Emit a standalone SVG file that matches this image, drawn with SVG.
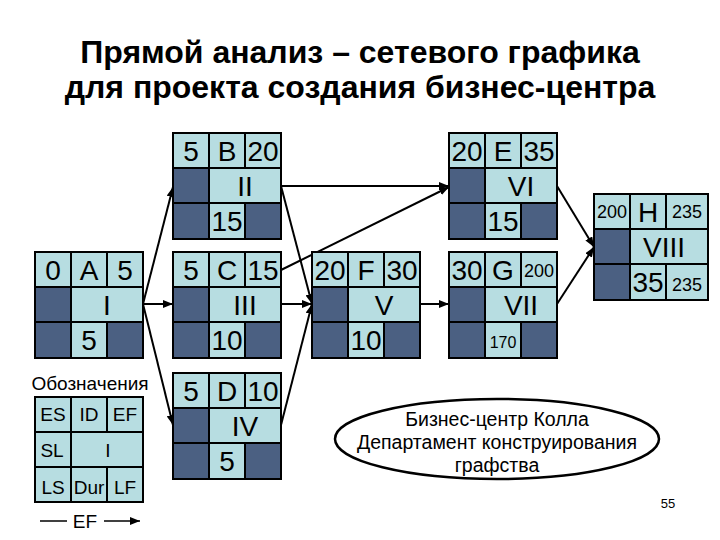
<svg xmlns="http://www.w3.org/2000/svg" width="720" height="540" viewBox="0 0 720 540">
<defs>
<style>
.l{fill:#b7dde1;stroke:#000;stroke-width:2}
.d{fill:#4b6082;stroke:#000;stroke-width:2}
text{font-family:"Liberation Sans",Arial,sans-serif;fill:#000;text-anchor:middle}
.t{font-size:28px}
.s{font-size:18px}
.g{font-size:16px}
.lg{font-size:19px}
.e{font-size:19.5px}
.title{font-size:32px;font-weight:bold}
.c{stroke:#000;stroke-width:2;fill:none;marker-end:url(#ah)}
</style>
<marker id="ah" markerUnits="userSpaceOnUse" markerWidth="10" markerHeight="8" refX="10" refY="4" orient="auto">
<path d="M0,0 L10,4 L0,8 z" fill="#000"/>
</marker>
</defs>
<rect width="720" height="540" fill="#fff"/>
<g id="title">
<text class="title" x="360" y="63">Прямой анализ – сетевого графика</text>
<text class="title" x="360" y="98">для проекта создания бизнес-центра</text>
</g>
<g id="connectors">
<path class="c" d="M143,304 L173,187"/>
<path class="c" d="M143,304 L173,304"/>
<path class="c" d="M143,304 L173,425"/>
<path class="c" d="M281,186 L449,186"/>
<path class="c" d="M281,186 L312,304"/>
<path class="c" d="M281,270 L449,187"/>
<path class="c" d="M281,304 L312,304"/>
<path class="c" d="M281,425 L312,304"/>
<path class="c" d="M420,304 L449,304"/>
<path class="c" d="M557,186 L594,247"/>
<path class="c" d="M557,304 L594,247"/>
</g>
<g id="nodeA" transform="translate(35,252)">
<rect class="l" x="0" y="0" width="36" height="35"/><rect class="l" x="36" y="0" width="36" height="35"/><rect class="l" x="72" y="0" width="36" height="35"/>
<rect class="d" x="0" y="35" width="36" height="35"/><rect class="l" x="36" y="35" width="72" height="35"/>
<rect class="d" x="0" y="70" width="36" height="36"/><rect class="l" x="36" y="70" width="36" height="36"/><rect class="d" x="72" y="70" width="36" height="36"/>
<text class="t" x="18" y="28">0</text><text class="t" x="54" y="28">A</text><text class="t" x="90" y="28">5</text>
<text class="t" x="72" y="63">I</text><text class="t" x="54" y="98">5</text>
</g>
<g id="nodeB" transform="translate(173,133)">
<rect class="l" x="0" y="0" width="36" height="35"/><rect class="l" x="36" y="0" width="36" height="35"/><rect class="l" x="72" y="0" width="36" height="35"/>
<rect class="d" x="0" y="35" width="36" height="35"/><rect class="l" x="36" y="35" width="72" height="35"/>
<rect class="d" x="0" y="70" width="36" height="36"/><rect class="l" x="36" y="70" width="36" height="36"/><rect class="d" x="72" y="70" width="36" height="36"/>
<text class="t" x="18" y="28">5</text><text class="t" x="54" y="28">B</text><text class="t" x="90" y="28">20</text>
<text class="t" x="72" y="63">II</text><text class="t" x="54" y="98">15</text>
</g>
<g id="nodeC" transform="translate(173,252)">
<rect class="l" x="0" y="0" width="36" height="35"/><rect class="l" x="36" y="0" width="36" height="35"/><rect class="l" x="72" y="0" width="36" height="35"/>
<rect class="d" x="0" y="35" width="36" height="35"/><rect class="l" x="36" y="35" width="72" height="35"/>
<rect class="d" x="0" y="70" width="36" height="36"/><rect class="l" x="36" y="70" width="36" height="36"/><rect class="d" x="72" y="70" width="36" height="36"/>
<text class="t" x="18" y="28">5</text><text class="t" x="54" y="28">C</text><text class="t" x="90" y="28">15</text>
<text class="t" x="72" y="63">III</text><text class="t" x="54" y="98">10</text>
</g>
<g id="nodeD" transform="translate(173,373)">
<rect class="l" x="0" y="0" width="36" height="35"/><rect class="l" x="36" y="0" width="36" height="35"/><rect class="l" x="72" y="0" width="36" height="35"/>
<rect class="d" x="0" y="35" width="36" height="35"/><rect class="l" x="36" y="35" width="72" height="35"/>
<rect class="d" x="0" y="70" width="36" height="36"/><rect class="l" x="36" y="70" width="36" height="36"/><rect class="d" x="72" y="70" width="36" height="36"/>
<text class="t" x="18" y="28">5</text><text class="t" x="54" y="28">D</text><text class="t" x="90" y="28">10</text>
<text class="t" x="72" y="63">IV</text><text class="t" x="54" y="98">5</text>
</g>
<g id="nodeE" transform="translate(449,133)">
<rect class="l" x="0" y="0" width="36" height="35"/><rect class="l" x="36" y="0" width="36" height="35"/><rect class="l" x="72" y="0" width="36" height="35"/>
<rect class="d" x="0" y="35" width="36" height="35"/><rect class="l" x="36" y="35" width="72" height="35"/>
<rect class="d" x="0" y="70" width="36" height="36"/><rect class="l" x="36" y="70" width="36" height="36"/><rect class="d" x="72" y="70" width="36" height="36"/>
<text class="t" x="18" y="28">20</text><text class="t" x="54" y="28">E</text><text class="t" x="90" y="28">35</text>
<text class="t" x="72" y="63">VI</text><text class="t" x="54" y="98">15</text>
</g>
<g id="nodeF" transform="translate(312,252)">
<rect class="l" x="0" y="0" width="36" height="35"/><rect class="l" x="36" y="0" width="36" height="35"/><rect class="l" x="72" y="0" width="36" height="35"/>
<rect class="d" x="0" y="35" width="36" height="35"/><rect class="l" x="36" y="35" width="72" height="35"/>
<rect class="d" x="0" y="70" width="36" height="36"/><rect class="l" x="36" y="70" width="36" height="36"/><rect class="d" x="72" y="70" width="36" height="36"/>
<text class="t" x="18" y="28">20</text><text class="t" x="54" y="28">F</text><text class="t" x="90" y="28">30</text>
<text class="t" x="72" y="63">V</text><text class="t" x="54" y="98">10</text>
</g>
<g id="nodeG" transform="translate(449,252)">
<rect class="l" x="0" y="0" width="36" height="35"/><rect class="l" x="36" y="0" width="36" height="35"/><rect class="l" x="72" y="0" width="36" height="35"/>
<rect class="d" x="0" y="35" width="36" height="35"/><rect class="l" x="36" y="35" width="72" height="35"/>
<rect class="d" x="0" y="70" width="36" height="36"/><rect class="l" x="36" y="70" width="36" height="36"/><rect class="d" x="72" y="70" width="36" height="36"/>
<text class="t" x="18" y="28">30</text><text class="t" x="54" y="28">G</text><text class="s" x="90" y="25">200</text>
<text class="t" x="72" y="63">VII</text><text class="g" x="54" y="96">170</text>
</g>
<g id="nodeH" transform="translate(594,194)">
<rect class="l" x="0" y="0" width="36" height="35"/><rect class="l" x="36" y="0" width="36" height="35"/><rect class="l" x="72" y="0" width="42" height="35"/>
<rect class="d" x="0" y="35" width="36" height="35"/><rect class="l" x="36" y="35" width="78" height="35"/>
<rect class="d" x="0" y="70" width="36" height="36"/><rect class="l" x="36" y="70" width="36" height="36"/><rect class="l" x="72" y="70" width="42" height="36"/>
<text class="s" x="18" y="24">200</text><text class="t" x="54" y="28">H</text><text class="s" x="93" y="24">235</text>
<text class="t" x="70" y="63">VIII</text><text class="t" x="54" y="98">35</text><text class="s" x="93" y="97">235</text>
</g>
<g id="legend">
<text class="lg" x="90" y="390">Обозначения</text>
<rect class="l" x="35" y="397" width="36" height="35"/><rect class="l" x="71" y="397" width="36" height="35"/><rect class="l" x="107" y="397" width="36" height="35"/>
<rect class="l" x="35" y="432" width="36" height="35"/><rect class="l" x="71" y="432" width="72" height="35"/>
<rect class="l" x="35" y="467" width="36" height="35"/><rect class="l" x="71" y="467" width="36" height="35"/><rect class="l" x="107" y="467" width="36" height="35"/>
<text class="lg" x="53" y="421">ES</text><text class="lg" x="89" y="421">ID</text><text class="lg" x="125" y="421">EF</text>
<text class="lg" x="52" y="457">SL</text><text class="lg" x="108" y="457">I</text>
<text class="lg" x="53" y="494">LS</text><text class="lg" x="89" y="494">Dur</text><text class="lg" x="125" y="494">LF</text>
<line x1="40" y1="521" x2="67" y2="521" stroke="#000" stroke-width="1.5"/>
<text class="lg" x="85" y="528">EF</text>
<line x1="104" y1="521" x2="140" y2="521" stroke="#000" stroke-width="1.5" marker-end="url(#ah)"/>
</g>
<g id="caption">
<ellipse cx="497" cy="439" rx="162" ry="40" fill="#fff" stroke="#000" stroke-width="2.5"/>
<text class="e" x="497" y="426">Бизнес-центр Колла</text>
<text class="e" x="497" y="449">Департамент конструирования</text>
<text class="e" x="497" y="472">графства</text>
</g>
<text x="668" y="508" style="font-size:13px">55</text>
</svg>
